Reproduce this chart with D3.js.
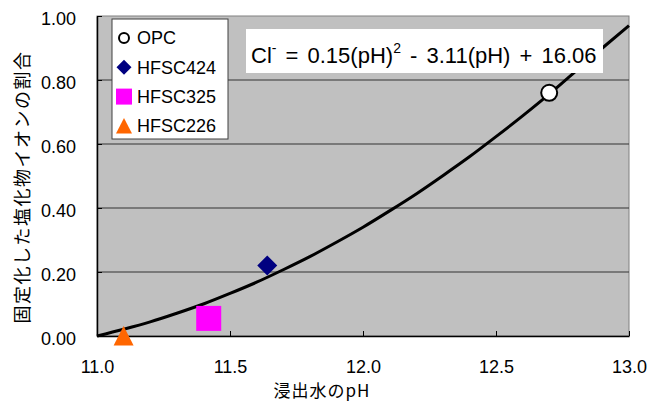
<!DOCTYPE html>
<meta charset="utf-8">
<style>
    body { margin: 0; background: #fff; }
    text { font-family: "Liberation Sans", Arial, sans-serif; fill: #000; }
    .jp { font-family: "Noto Sans CJK JP", sans-serif; }
    .grid line { stroke: #333; stroke-width: 1px; }
    .axis path, .axis line { stroke: #000; }
</style>
<svg width="656" height="401"></svg>
<script src="https://d3js.org/d3.v7.min.js"></script>
<script>

    // fitted curve
    var curvePH = [11.0, 11.1, 11.2, 11.3, 11.4, 11.5, 11.6, 11.7, 11.8, 11.9, 12.0,
        12.1, 12.2, 12.3, 12.4, 12.5, 12.6, 12.7, 12.8, 12.9, 13.0];
    var curveRatio = [0.000, 0.021, 0.044, 0.071, 0.100, 0.133, 0.168, 0.207, 0.248, 0.293, 0.340,
        0.391, 0.444, 0.501, 0.560, 0.623, 0.688, 0.756, 0.828, 0.900, 0.970];

    // measured samples
    var sampleNames = ["OPC", "HFSC424", "HFSC325", "HFSC226"];
    var samplePH = [12.7, 11.64, 11.42, 11.10];
    var sampleRatio = [0.76, 0.22, 0.055, 0.0];

    var xTicks = [11.0, 11.5, 12.0, 12.5, 13.0];
    var yTicks = [0, 0.2, 0.4, 0.6, 0.8, 1.0];

    var svg = d3.select("svg"),
        margin = {top: 16, right: 27, bottom: 65, left: 97},
        width = +svg.attr("width") - margin.left - margin.right,
        height = +svg.attr("height") - margin.top - margin.bottom;

    var g = svg.append("g")
        .attr("transform", "translate(" + margin.left + "," + margin.top + ")");

    var x = d3.scaleLinear().domain([11, 13]).range([0, width]);
    var y = d3.scaleLinear().domain([0, 1]).range([height, 0]);

    g.append("rect")
        .attr("width", width)
        .attr("height", height)
        .attr("fill", "#c0c0c0")
        .attr("stroke", "#808080");

    g.append("g")
        .attr("class", "grid")
        .selectAll("line")
        .data(yTicks.slice(1, -1))
        .enter().append("line")
        .attr("x1", 0)
        .attr("x2", width)
        .attr("y1", function (d) { return y(d); })
        .attr("y2", function (d) { return y(d); });

    g.append("g")
        .attr("class", "axis")
        .attr("transform", "translate(0," + height + ")")
        .call(d3.axisBottom(x).tickValues(xTicks).tickFormat(d3.format(".1f"))
            .tickSizeInner(-5).tickSizeOuter(0).tickPadding(24));

    g.append("g")
        .attr("class", "axis y")
        .call(d3.axisLeft(y).tickValues(yTicks).tickFormat(d3.format(".2f"))
            .tickSizeInner(-5).tickSizeOuter(0).tickPadding(21));

    svg.selectAll(".axis text")
        .style("font-family", "'Liberation Sans', Arial, sans-serif")
        .style("font-size", "18px")
        .attr("fill", "#000");
    svg.selectAll(".y text").attr("dy", "0.48em");
    svg.selectAll(".axis path").attr("stroke-width", 1.5);

    // fitted curve
    var line = d3.line()
        .curve(d3.curveMonotoneX)
        .x(function (d) { return x(d[0]); })
        .y(function (d) { return y(d[1]); });

    g.append("path")
        .datum(d3.zip(curvePH, curveRatio))
        .attr("d", line)
        .attr("fill", "none")
        .attr("stroke", "#000")
        .attr("stroke-width", 3)
        .attr("stroke-linejoin", "round");

    // marker shapes, r = half width
    function markerPath(type, r) {
        if (type === "circle") return d3.symbol().type(d3.symbolCircle).size(Math.PI * r * r)();
        if (type === "diamond") return "M0," + (-r) + "L" + r + ",0L0," + r + "L" + (-r) + ",0Z";
        if (type === "square") return "M" + (-r) + "," + (-r) + "h" + 2 * r + "v" + 2 * r + "h" + (-2 * r) + "Z";
        return "M0," + (-r) + "L" + r + "," + r * 0.95 + "L" + (-r) + "," + r * 0.95 + "Z";
    }

    var markers = [
        {type: "circle", fill: "#fff", stroke: "#000", r: 8, legend: 5},
        {type: "diamond", fill: "#000080", stroke: "none", r: 10, legend: 7.5},
        {type: "square", fill: "#ff00ff", stroke: "none", r: 12.5, legend: 8},
        {type: "triangle", fill: "#ff6600", stroke: "none", r: 10, legend: 8}
    ];

    var samples = sampleNames.map(function (name, i) {
        return {name: name, ph: samplePH[i], ratio: sampleRatio[i], m: markers[i]};
    });

    g.selectAll(".sample")
        .data(samples)
        .enter().append("path")
        .attr("class", "sample")
        .attr("transform", function (d) {
            return "translate(" + x(d.ph) + "," + y(d.ratio) + ")";
        })
        .attr("d", function (d) { return markerPath(d.m.type, d.m.r); })
        .attr("fill", function (d) { return d.m.fill; })
        .attr("stroke", function (d) { return d.m.stroke; })
        .attr("stroke-width", 2);

    // legend
    var legend = svg.append("g").attr("transform", "translate(112,19)");
    legend.append("rect")
        .attr("width", 116)
        .attr("height", 120)
        .attr("fill", "#fff")
        .attr("stroke", "#404040");

    var item = legend.selectAll(".item")
        .data(samples)
        .enter().append("g")
        .attr("class", "item")
        .attr("transform", function (d, i) { return "translate(12," + (19 + i * 29.3) + ")"; });

    item.append("path")
        .attr("d", function (d) { return markerPath(d.m.type, d.m.legend); })
        .attr("fill", function (d) { return d.m.fill; })
        .attr("stroke", function (d) { return d.m.stroke; })
        .attr("stroke-width", 2);

    item.append("text")
        .attr("x", 13)
        .attr("dy", "0.35em")
        .style("font-size", "18px")
        .text(function (d) { return d.name; });

    // equation box
    svg.append("rect")
        .attr("x", 246)
        .attr("y", 29)
        .attr("width", 357)
        .attr("height", 44)
        .attr("fill", "#fff");

    var eq = svg.append("text")
        .attr("x", 251)
        .attr("y", 63)
        .style("font-size", "22px")
        .style("white-space", "pre")
        .style("word-spacing", "3px");
    eq.append("tspan").text("Cl");
    eq.append("tspan").attr("dy", -10).style("font-size", "14px").text("-");
    eq.append("tspan").attr("dy", 10).text(" = 0.15(pH)");
    eq.append("tspan").attr("dy", -10).style("font-size", "14px").text("2");
    eq.append("tspan").attr("dy", 10).text(" - 3.11(pH) + 16.06");

    // axis titles
    svg.append("text")
        .attr("class", "jp")
        .attr("x", 322)
        .attr("y", 397)
        .attr("text-anchor", "middle")
        .style("font-size", "17px")
        .style("letter-spacing", "1px")
        .text("浸出水のpH");

    svg.append("text")
        .attr("class", "jp")
        .attr("transform", "translate(29,187) rotate(-90)")
        .attr("text-anchor", "middle")
        .style("font-size", "18px")
        .style("letter-spacing", "1.5px")
        .text("固定化した塩化物イオンの割合");

</script>
